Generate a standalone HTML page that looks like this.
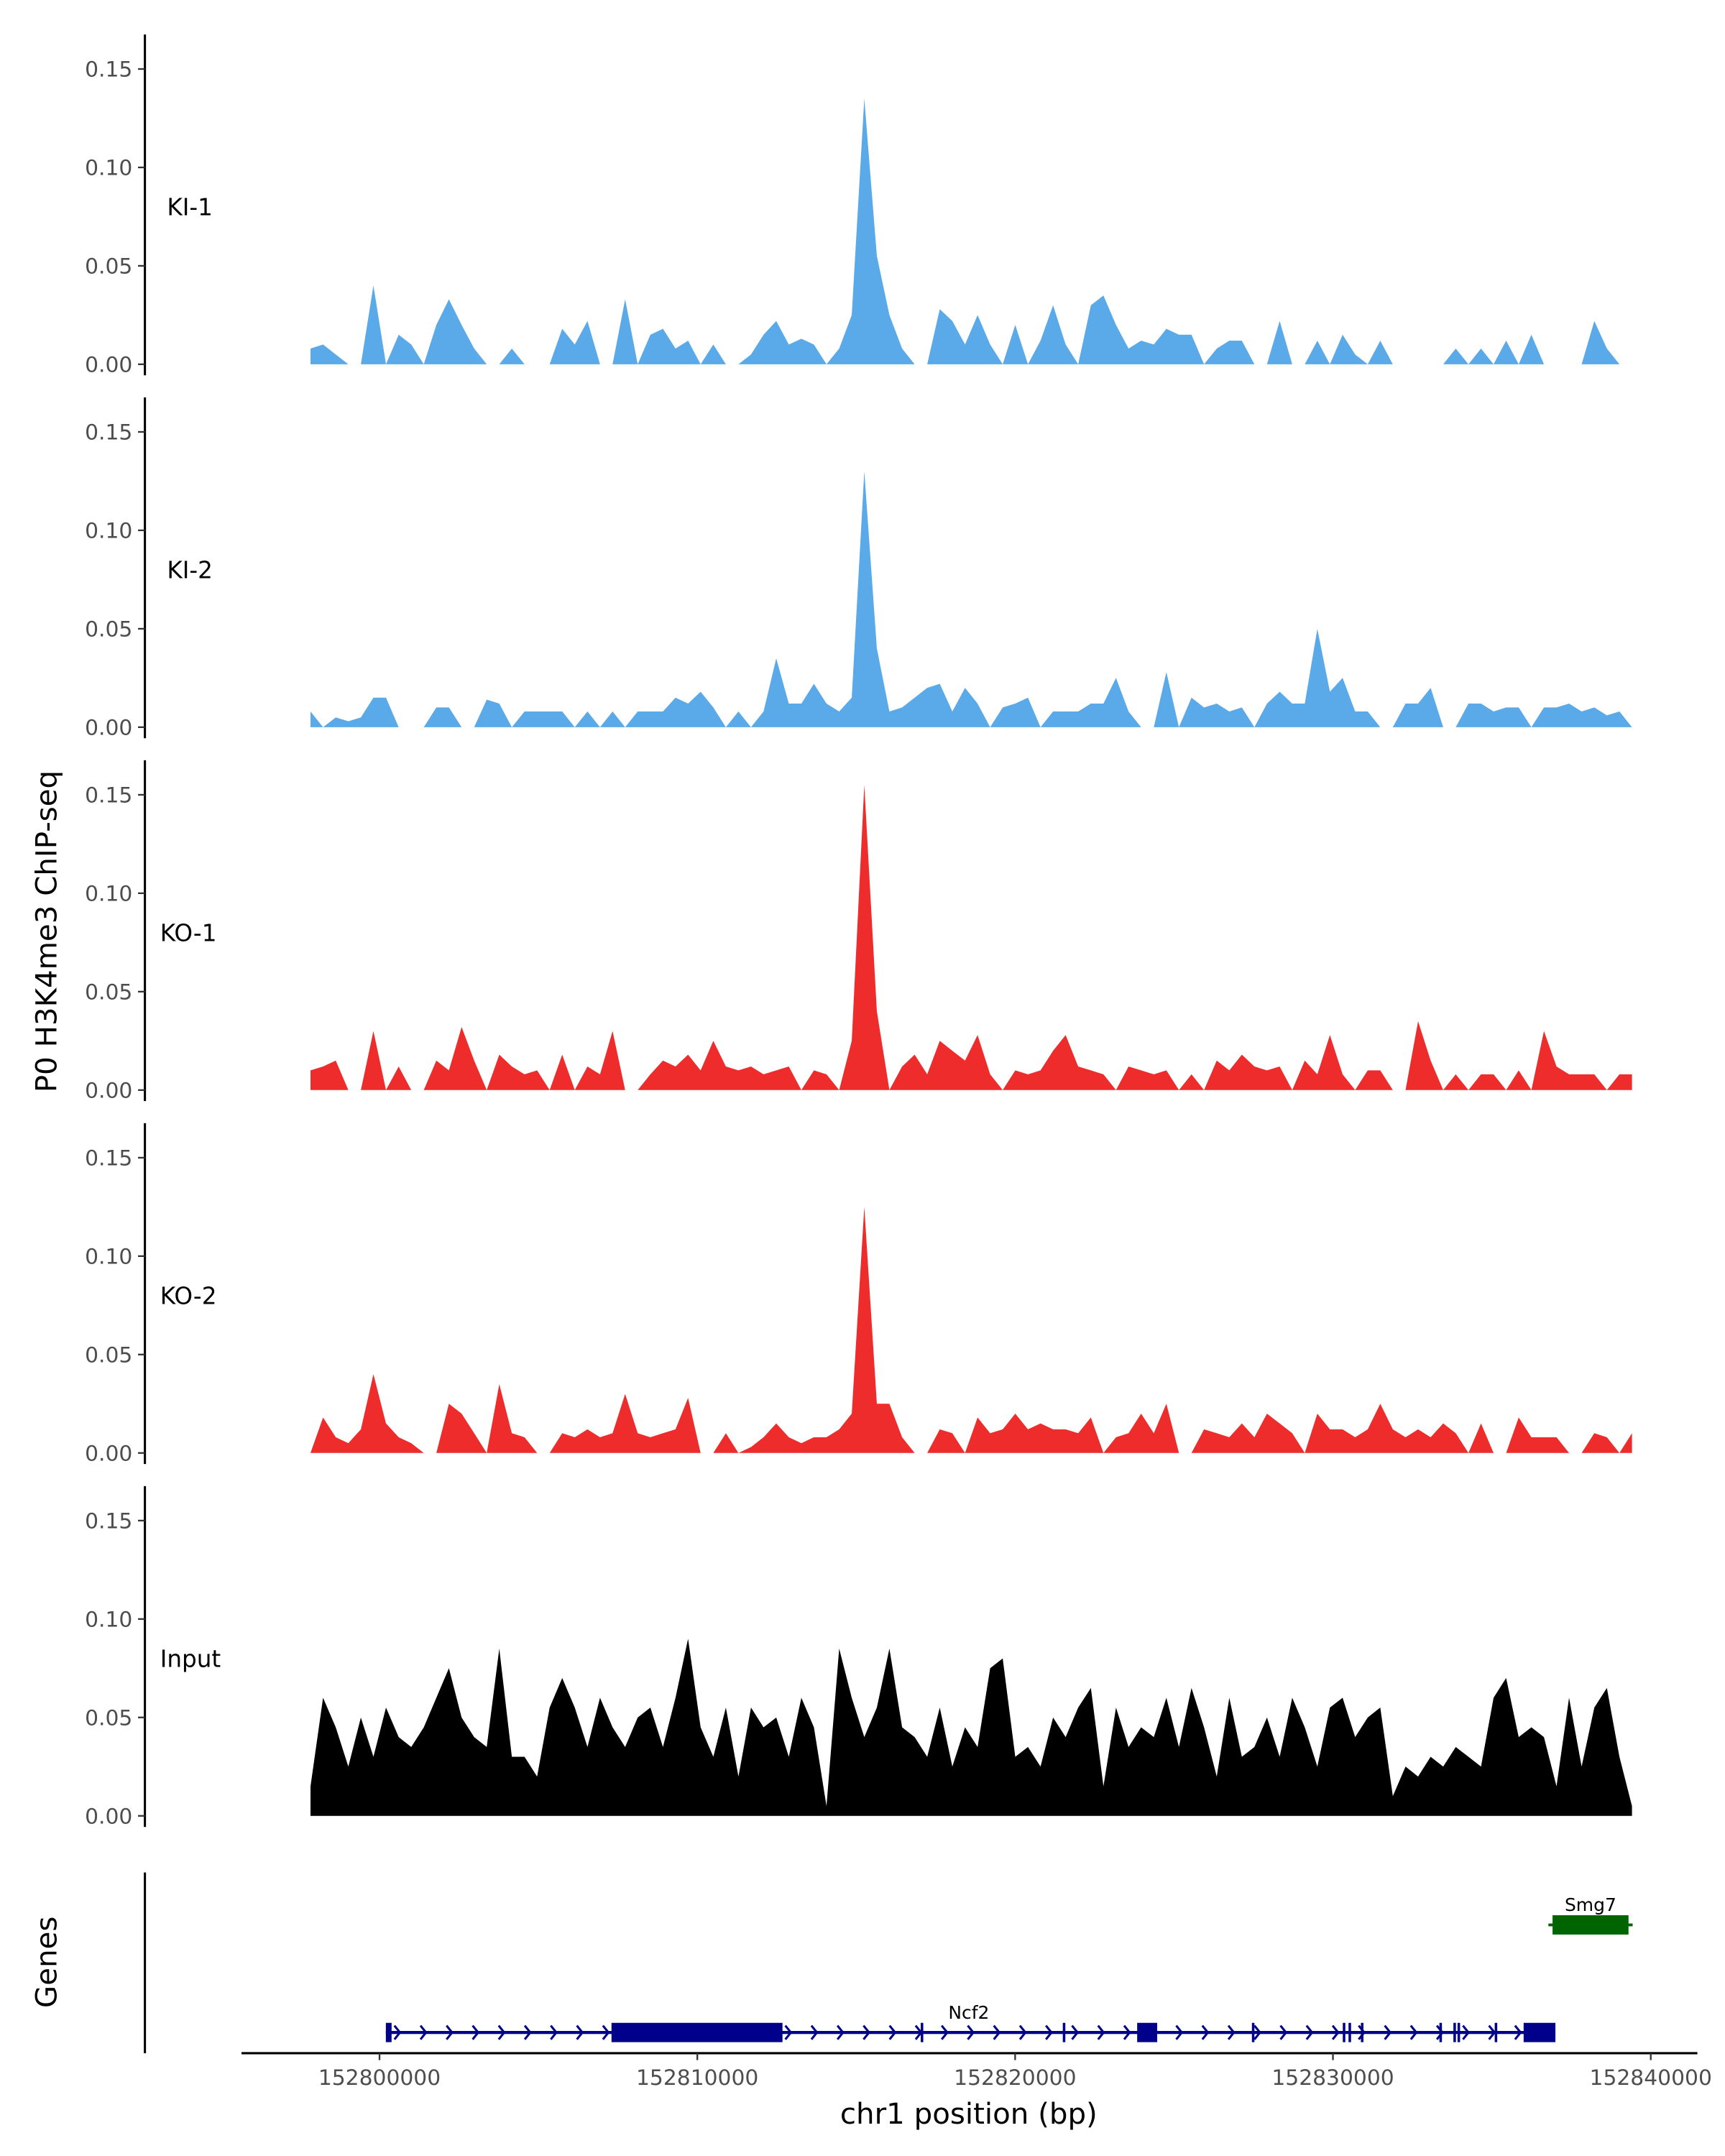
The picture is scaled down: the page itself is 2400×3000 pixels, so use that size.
<!DOCTYPE html>
<html><head><meta charset="utf-8"><style>
html,body{margin:0;padding:0;background:#fff}
svg{display:block}
text{font-family:"DejaVu Sans","Liberation Sans",sans-serif}
</style></head><body>
<svg id="chart" width="2400" height="3000" viewBox="0 0 1250 1562.5" xmlns="http://www.w3.org/2000/svg">
<rect width="1250" height="1562.5" fill="#fff"/>
<text transform="translate(41,675) rotate(-90)" text-anchor="middle" font-size="21" fill="#000">P0 H3K4me3 ChIP-seq</text>
<text transform="translate(41,1422) rotate(-90)" text-anchor="middle" font-size="21" fill="#000">Genes</text>
<text x="702" y="1539" text-anchor="middle" font-size="21" fill="#000">chr1 position (bp)</text>
<g id="tracks"></g>
<g id="genes"></g>
<g id="xaxis"></g>
</svg>
<script>
const binStart = 152797830;
const binSize = 396;
const trackNames = ["KI-1","KI-2","KO-1","KO-2","Input"];
const trackColors = ["#5aaaea","#5aaaea","#ee2c2c","#ee2c2c","#000000"];
const yTicks = [0, 0.05, 0.10, 0.15];
const xTicks = [152800000,152810000,152820000,152830000,152840000];
// values in thousandths
const ki1 = [8,10,5,0,0,40,0,15,10,0,20,33,20,8,0,0,8,0,0,0,18,10,22,0,0,33,0,15,18,8,12,0,10,0,0,5,15,22,10,13,10,0,8,25,135,55,25,8,0,0,28,22,10,25,10,0,20,0,12,30,10,0,30,35,20,8,12,10,18,15,15,0,8,12,12,0,0,22,0,0,12,0,15,5,0,12,0,0,0,0,0,8,0,8,0,12,0,15,0,0,0,0,22,8,0,0];
const ki2 = [8,0,5,3,5,15,15,0,0,0,10,10,0,0,14,12,0,8,8,8,8,0,8,0,8,0,8,8,8,15,12,18,10,0,8,0,8,35,12,12,22,12,8,15,130,40,8,10,15,20,22,8,20,12,0,10,12,15,0,8,8,8,12,12,25,8,0,0,28,0,15,10,12,8,10,0,12,18,12,12,50,18,25,8,8,0,0,12,12,20,0,0,12,12,8,10,10,0,10,10,12,8,10,6,8,0];
const ko1 = [10,12,15,0,0,30,0,12,0,0,15,10,32,15,0,18,12,8,10,0,18,0,12,8,30,0,0,8,15,12,18,10,25,12,10,12,8,10,12,0,10,8,0,25,155,40,0,12,18,8,25,20,15,28,8,0,10,8,10,20,28,12,10,8,0,12,10,8,10,0,8,0,15,10,18,12,10,12,0,15,8,28,8,0,10,10,0,0,35,15,0,8,0,8,8,0,10,0,30,12,8,8,8,0,8,8];
const ko2 = [0,18,8,5,12,40,15,8,5,0,0,25,20,10,0,35,10,8,0,0,10,8,12,8,10,30,10,8,10,12,28,0,0,10,0,3,8,15,8,5,8,8,12,20,125,25,25,8,0,0,12,10,0,18,10,12,20,12,15,12,12,10,18,0,8,10,20,10,25,0,0,12,10,8,15,8,20,15,10,0,20,12,12,8,12,25,12,8,12,8,15,10,0,15,0,0,18,8,8,8,0,0,10,8,0,10];
const inputSig = [15,60,45,25,50,30,55,40,35,45,60,75,50,40,35,85,30,30,20,55,70,55,35,60,45,35,50,55,35,60,90,45,30,55,20,55,45,50,30,60,45,5,85,60,40,55,85,45,40,30,55,25,45,35,75,80,30,35,25,50,40,55,65,15,55,35,45,40,60,35,65,45,20,60,30,35,50,30,60,45,25,55,60,40,50,55,10,25,20,30,25,35,30,25,60,70,40,45,40,15,60,25,55,65,30,5];
const trackData = [ki1,ki2,ko1,ko2,inputSig];
// gene models (bp)
const ncf2Span = [152800200,152837000];
const ncf2Exons = [[152800200,152800380],[152807300,152812680],[152817030,152817110],[152821500,152821580],[152823840,152824470],[152827450,152827530],[152830310,152830390],[152830490,152830570],[152830880,152830960],[152833350,152833430],[152833790,152833870],[152833920,152834000],[152835090,152835170],[152836000,152837000]];
const smg7Span = [152836910,152839300];

const NS="http://www.w3.org/2000/svg";
const xS = bp => 275 + (bp-152800000)*0.02303;
function mk(tag,attrs,parent){const e=document.createElementNS(NS,tag);for(const k in attrs)e.setAttribute(k,attrs[k]);parent.appendChild(e);return e;}
const tracks=document.getElementById('tracks');
trackData.forEach((vals,k)=>{
  const zeroY=264+263*k;
  const yS=v=>zeroY - v/0.05*71.33;
  const g=mk('g',{},tracks);
  
  
  const axis=mk('line',{x1:105,x2:105,y1:zeroY-239,y2:zeroY+8,stroke:'#000','stroke-width':1.6},g);
  
  
  yTicks.forEach(t=>{
    const y=yS(t);
    mk('line',{x1:100,x2:105,y1:y,y2:y,stroke:'#333','stroke-width':1.2},g);
    const tx=mk('text',{x:96,y:y+5.5,'text-anchor':'end','font-size':15.5,fill:'#4d4d4d'},g);
    tx.textContent=t.toFixed(2);
    
    
  });
  const lbl=mk('text',{x:k<2?121:116,y:zeroY-108,'font-size':17,fill:'#000'},g);
  lbl.textContent=trackNames[k];
  
  
  let pts=[[xS(binStart),zeroY]];
  vals.forEach((v,i)=>pts.push([xS(binStart+i*binSize),yS(v/1000)]));
  pts.push([xS(binStart+(vals.length-1)*binSize),zeroY]);
  const area=mk('polygon',{points:pts.map(p=>p[0].toFixed(1)+','+p[1].toFixed(1)).join(' '),fill:trackColors[k]},g);
  
  
});
// genes
const gg=document.getElementById('genes');
const gax=mk('line',{x1:105,x2:105,y1:1357,y2:1488,stroke:'#000','stroke-width':1.6},gg);


const gy=1473, navy='#00008b';
const ncf=mk('g',{},gg);


mk('line',{x1:xS(ncf2Span[0]),x2:xS(ncf2Span[1]),y1:gy,y2:gy,stroke:navy,'stroke-width':2.2},ncf);
for(let bp=ncf2Span[0]+400;bp<ncf2Span[1];bp+=820){
  const x=xS(bp);
  mk('polyline',{points:`${x-3},${gy-5} ${x+1},${gy} ${x-3},${gy+5}`,fill:'none',stroke:navy,'stroke-width':1.6},ncf);
}
ncf2Exons.forEach(e=>{
  const w=Math.max(xS(e[1])-xS(e[0]),1.5);
  const h=(e[1]-e[0])>150?14:14;
  const r=mk('rect',{x:xS(e[0]),y:gy-h/2,width:w,height:h,fill:navy},ncf);
  
  
});
const nl=mk('text',{x:702,y:1463,'text-anchor':'middle','font-size':13,fill:'#000'},ncf);
nl.textContent='Ncf2';


const smg=mk('g',{},gg);


mk('line',{x1:xS(smg7Span[0])-3,x2:xS(smg7Span[1])+3,y1:1395,y2:1395,stroke:'#006400','stroke-width':2},smg);
mk('rect',{x:xS(smg7Span[0]),y:1388,width:xS(smg7Span[1])-xS(smg7Span[0]),height:14,fill:'#006400'},smg);
const sl=mk('text',{x:xS((smg7Span[0]+smg7Span[1])/2),y:1385,'text-anchor':'middle','font-size':13,fill:'#000'},smg);
sl.textContent='Smg7';


// x axis
const xa=document.getElementById('xaxis');
const xl=mk('line',{x1:175,x2:1230,y1:1488,y2:1488,stroke:'#000','stroke-width':1.6},xa);


xTicks.forEach(t=>{
  const x=xS(t);
  mk('line',{x1:x,x2:x,y1:1488,y2:1493,stroke:'#333','stroke-width':1.2},xa);
  const tx=mk('text',{x:x,y:1511,'text-anchor':'middle','font-size':15.5,fill:'#4d4d4d'},xa);
  tx.textContent=String(t);
  
  
});
</script>
</body></html>
